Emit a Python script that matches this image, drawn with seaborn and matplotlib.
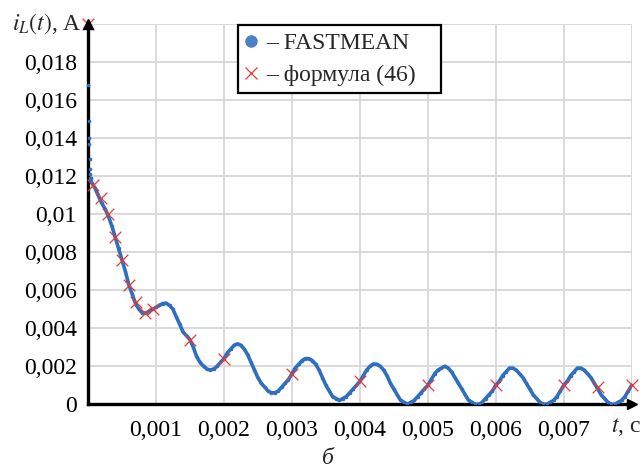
import numpy as np
import pandas as pd
import seaborn as sns
import matplotlib.pyplot as plt
from matplotlib.lines import Line2D
from matplotlib.ticker import FuncFormatter

# FASTMEAN, first samples (sharp drop right after t = 0)
t_head = [0.0, 0.000005, 0.00001, 0.000015, 0.00002, 0.000025, 0.00003, 0.000035, 0.00004]
i_head = [0.0200, 0.0168, 0.0149, 0.0140, 0.0137, 0.0129, 0.0124, 0.0121, 0.0119]

# FASTMEAN, main part of the curve (step 0.05 ms)
t_fm = [0.00004, 0.00005, 0.0001, 0.00015, 0.0002, 0.00025, 0.0003, 0.00035, 0.0004, 0.00045,
        0.0005, 0.00055, 0.0006, 0.00065, 0.0007, 0.00075, 0.0008, 0.00085, 0.0009, 0.00095,
        0.001, 0.00105, 0.0011, 0.00115, 0.0012, 0.00125, 0.0013, 0.00135, 0.0014, 0.00145,
        0.0015, 0.00155, 0.0016, 0.00165, 0.0017, 0.00175, 0.0018, 0.00185, 0.0019, 0.00195,
        0.002, 0.00205, 0.0021, 0.00215, 0.0022, 0.00225, 0.0023, 0.00235, 0.0024, 0.00245,
        0.0025, 0.00255, 0.0026, 0.00265, 0.0027, 0.00275, 0.0028, 0.00285, 0.0029, 0.00295,
        0.003, 0.00305, 0.0031, 0.00315, 0.0032, 0.00325, 0.0033, 0.00335, 0.0034, 0.00345,
        0.0035, 0.00355, 0.0036, 0.00365, 0.0037, 0.00375, 0.0038, 0.00385, 0.0039, 0.00395,
        0.004, 0.00405, 0.0041, 0.00415, 0.0042, 0.00425, 0.0043, 0.00435, 0.0044, 0.00445,
        0.0045, 0.00455, 0.0046, 0.00465, 0.0047, 0.00475, 0.0048, 0.00485, 0.0049, 0.00495,
        0.005, 0.00505, 0.0051, 0.00515, 0.0052, 0.00525, 0.0053, 0.00535, 0.0054, 0.00545,
        0.0055, 0.00555, 0.0056, 0.00565, 0.0057, 0.00575, 0.0058, 0.00585, 0.0059, 0.00595,
        0.006, 0.00605, 0.0061, 0.00615, 0.0062, 0.00625, 0.0063, 0.00635, 0.0064, 0.00645,
        0.0065, 0.00655, 0.0066, 0.00665, 0.0067, 0.00675, 0.0068, 0.00685, 0.0069, 0.00695,
        0.007, 0.00705, 0.0071, 0.00715, 0.0072, 0.00725, 0.0073, 0.00735, 0.0074, 0.00745,
        0.0075, 0.00755, 0.0076, 0.00765, 0.0077, 0.00775, 0.0078, 0.00785, 0.0079, 0.00795,
        0.008]
i_fm = [0.0119, 0.0117, 0.0114, 0.0110, 0.0106, 0.0103, 0.0099, 0.0094, 0.0088, 0.0082,
        0.0076, 0.0070, 0.0063, 0.0058, 0.0053, 0.0050, 0.0048, 0.0048, 0.0049, 0.0050,
        0.0051, 0.0052, 0.0053, 0.00532, 0.0052, 0.0050, 0.0046, 0.0042, 0.0038, 0.0036,
        0.0034, 0.0030, 0.0025, 0.0022, 0.0020, 0.00185, 0.0018, 0.00185, 0.0020, 0.0022,
        0.0024, 0.0027, 0.0029, 0.0031, 0.00318, 0.0031, 0.0029, 0.0026, 0.0022, 0.0018,
        0.0014, 0.0011, 0.0009, 0.0007, 0.0006, 0.0006, 0.0007, 0.0009, 0.0011, 0.0013,
        0.0016, 0.0019, 0.0021, 0.0023, 0.0024, 0.0024, 0.0023, 0.0021, 0.0018, 0.0014,
        0.0010, 0.0007, 0.0004, 0.0003, 0.0002, 0.0003, 0.0004, 0.0006, 0.0008, 0.0010,
        0.0012, 0.0015, 0.0018, 0.0020, 0.00212, 0.0021, 0.0020, 0.0018, 0.0015, 0.0011,
        0.0008, 0.0005, 0.0002, 0.0001, 0.0000, 0.0001, 0.0002, 0.0004, 0.0006, 0.0008,
        0.0010, 0.0013, 0.0016, 0.0018, 0.0019, 0.0020, 0.0019, 0.0017, 0.0014, 0.0011,
        0.0008, 0.0005, 0.0002, 0.0001, 0.0000, 0.0000, 0.0001, 0.0003, 0.0005, 0.0007,
        0.0010, 0.0012, 0.0015, 0.0017, 0.0019, 0.0019, 0.0018, 0.0016, 0.0014, 0.0011,
        0.0008, 0.0005, 0.0003, 0.0001, 0.0000, 0.0000, 0.0001, 0.0002, 0.0004, 0.0007,
        0.0010, 0.0012, 0.0015, 0.0017, 0.0019, 0.0019, 0.0018, 0.0016, 0.0014, 0.0011,
        0.0008, 0.0005, 0.0003, 0.0001, 0.0000, 0.0000, 0.0001, 0.0002, 0.0004, 0.0007,
        0.0010]

# formula (46) check points
t_f46 = [0.0, 0.00007, 0.00019, 0.0003, 0.0004, 0.0005, 0.0006, 0.0007, 0.00084, 0.00096,
         0.0015, 0.002, 0.003, 0.004, 0.005, 0.006, 0.007, 0.0075, 0.008]
i_f46 = [0.0200, 0.01156, 0.01086, 0.0100, 0.0088, 0.0076, 0.0063, 0.0054, 0.0048, 0.0050,
         0.0034, 0.0024, 0.0016, 0.0012, 0.0010, 0.0010, 0.0010, 0.0009, 0.0010]

x_ticks = [0.001, 0.002, 0.003, 0.004, 0.005, 0.006, 0.007]
y_ticks = [0, 0.002, 0.004, 0.006, 0.008, 0.01, 0.012, 0.014, 0.016, 0.018]
x_grid = [0.0, 0.001, 0.002, 0.003, 0.004, 0.005, 0.006, 0.007, 0.008]
y_grid = [0.0, 0.002, 0.004, 0.006, 0.008, 0.01, 0.012, 0.014, 0.016, 0.018, 0.02]

blue = "#2f6fbf"
red = "#e63a36"

sns.set_style("white")
plt.rcParams["font.family"] = ["Liberation Serif", "DejaVu Serif"]
plt.rcParams["mathtext.fontset"] = "stix"

df_head = pd.DataFrame({"t": t_head, "i": i_head})
df_fm = pd.DataFrame({"t": t_fm, "i": i_fm})
df_f46 = pd.DataFrame({"t": t_f46, "i": i_f46})

fig = plt.figure(figsize=(6.42, 4.75), dpi=100)
ax = fig.add_axes([0.137, 0.149, 0.847, 0.800])

sns.lineplot(data=df_fm, x="t", y="i", ax=ax, color=blue, linewidth=2.6,
             marker="o", markersize=2.5, markeredgewidth=0, sort=False, zorder=3)
sns.scatterplot(data=df_head, x="t", y="i", ax=ax, color=blue, s=7, linewidth=0,
                zorder=3, clip_on=False)
sns.scatterplot(data=df_f46, x="t", y="i", ax=ax, color=red, marker="x", s=70,
                linewidth=0.9, zorder=4, clip_on=False)

ax.set_xlim(0, 0.008)
ax.set_ylim(0, 0.02)

def comma(v, pos):
    if v == 0:
        return "0"
    s = ("%.3f" % v).rstrip("0")
    return s.replace(".", ",")

ax.set_xticks(x_ticks)
ax.set_yticks(y_ticks)
ax.xaxis.set_major_formatter(FuncFormatter(comma))
ax.yaxis.set_major_formatter(FuncFormatter(comma))
ax.tick_params(axis="both", direction="inout", length=8, width=2.2, color="black",
               labelsize=17, labelcolor="black")
ax.tick_params(axis="x", pad=7)
ax.tick_params(axis="y", pad=4)

# grid incl. the outer lines at 0.008 and 0.02
ax.xaxis.remove_overlapping_locs = False
ax.yaxis.remove_overlapping_locs = False
ax.set_xticks(x_grid, minor=True)
ax.set_yticks(y_grid, minor=True)
ax.tick_params(which="minor", length=0)
ax.grid(which="minor", color="#d9d9d9", linewidth=1.4)
ax.set_axisbelow(True)

for side in ["top", "right"]:
    ax.spines[side].set_visible(False)
for side in ["left", "bottom"]:
    ax.spines[side].set_color("black")
    ax.spines[side].set_linewidth(2.4)

# arrow heads on the axes
ax.plot(1, 0, ">k", markersize=7, transform=ax.get_yaxis_transform(), clip_on=False, zorder=5)
ax.plot(0, 1, "^k", markersize=7, transform=ax.get_xaxis_transform(), clip_on=False, zorder=5)

ax.set_xlabel("")
ax.set_ylabel("")
ax.text(-0.012, 1.0, r"$i_L(t)$, А", transform=ax.transAxes, ha="right", va="center", fontsize=17)
fig.text(0.998, 0.101, r"$t$, с", ha="right", va="center", fontsize=17)
fig.text(0.51, 0.035, "б", ha="center", va="center", fontsize=17, style="italic")

handles = [Line2D([], [], linestyle="none", marker="o", markersize=8, color="#4a80c8"),
           Line2D([], [], linestyle="none", marker="x", markersize=8, markeredgewidth=0.9, color=red)]
leg = ax.legend(handles, ["– FASTMEAN", "– формула (46)   "], loc="upper left",
                bbox_to_anchor=(0.371, 0.947), bbox_transform=fig.transFigure,
                fontsize=17, frameon=True, fancybox=False, framealpha=1,
                handlelength=0.5, handletextpad=0.4, borderpad=0.3, labelspacing=0.45,
                borderaxespad=0)
leg.get_frame().set_edgecolor("black")
leg.get_frame().set_linewidth(1.6)

fig.savefig("out.png", dpi=100)
